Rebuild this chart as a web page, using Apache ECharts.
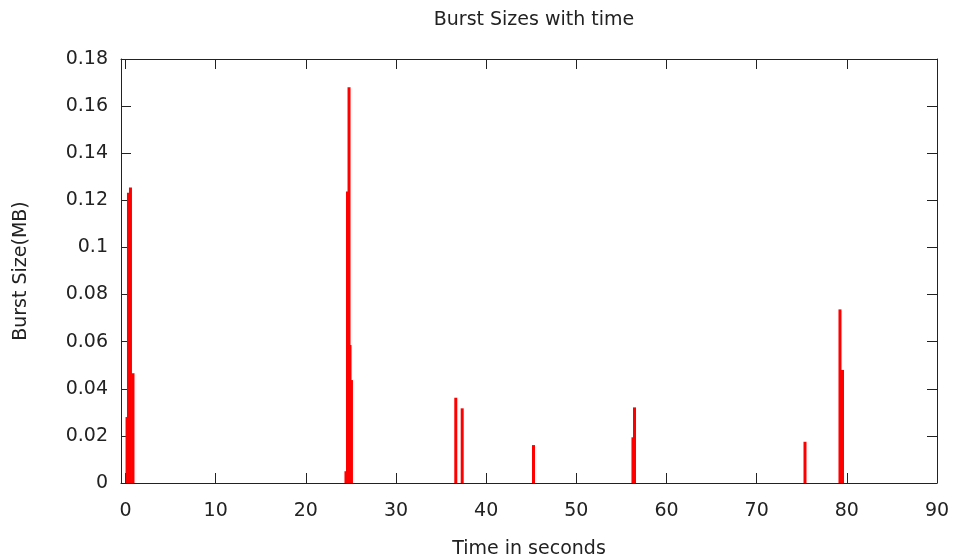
<!DOCTYPE html>
<html>
<head>
<meta charset="utf-8">
<script src="https://cdn.jsdelivr.net/npm/echarts@6/dist/echarts.min.js"></script>
<style>html,body{margin:0;padding:0;background:#fff}#c{width:954px;height:558px}</style>
</head>
<body>
<div id="c"></div>
<script>
var times = [0.17, 0.33, 0.55, 0.83, 24.45, 24.62, 24.79, 24.90, 25.06, 36.63, 37.34, 45.25, 56.28, 56.45, 75.36, 79.24, 79.52];
var sizes = [0.028, 0.1232, 0.1255, 0.0466, 0.005, 0.1237, 0.168, 0.0586, 0.0437, 0.0362, 0.0317, 0.0161, 0.0194, 0.0321, 0.0175, 0.0737, 0.048];
var xTicks = [0, 10, 20, 30, 40, 50, 60, 70, 80, 90];
var yTicks = [0, 0.02, 0.04, 0.06, 0.08, 0.1, 0.12, 0.14, 0.16, 0.18];

var FONT = 'DejaVu Sans';
var FS = 19;
var axisCol = '#222';
var txtCol = '#222';

var chart = echarts.init(document.getElementById('c'), null, {renderer: 'canvas'});
var data = times.map(function (t, i) { return [t, sizes[i]]; });

function xAxisDef(pos, labels) {
  return {
    type: 'value', position: pos, min: -0.5, max: 90,
    splitLine: {show: false},
    axisLine: {show: true, onZero: false, lineStyle: {color: axisCol, width: 1}},
    axisTick: {show: true, inside: true, length: 10, customValues: xTicks, lineStyle: {color: axisCol, width: 1}},
    axisLabel: {show: labels, customValues: xTicks, color: txtCol, fontFamily: FONT, fontSize: FS, margin: 19},
    name: labels ? 'Time in seconds' : '',
    nameLocation: 'middle', nameGap: 57,
    nameTextStyle: {color: txtCol, fontFamily: FONT, fontSize: FS}
  };
}
function yAxisDef(pos, labels) {
  return {
    type: 'value', position: pos, min: 0, max: 0.18, interval: 0.02,
    splitLine: {show: false},
    axisLine: {show: true, onZero: false, lineStyle: {color: axisCol, width: 1}},
    axisTick: {show: true, inside: true, length: 10, lineStyle: {color: axisCol, width: 1}},
    axisLabel: {show: labels, color: txtCol, fontFamily: FONT, fontSize: FS, margin: 13,
      formatter: function (v) { return String(Math.round(v * 100) / 100); }},
    name: labels ? 'Burst Size(MB)' : '',
    nameLocation: 'middle', nameGap: 90, nameRotate: 90,
    nameTextStyle: {color: txtCol, fontFamily: FONT, fontSize: FS}
  };
}

chart.setOption({
  animation: false,
  backgroundColor: '#fff',
  title: {
    text: 'Burst Sizes with time', left: 529, top: 6, textAlign: 'center',
    textStyle: {color: txtCol, fontFamily: FONT, fontSize: FS, fontWeight: 'normal'}
  },
  grid: {left: 121, right: 17, top: 59, bottom: 75, containLabel: false, outerBoundsMode: 'none'},
  xAxis: [xAxisDef('bottom', true), xAxisDef('top', false)],
  yAxis: [yAxisDef('left', true), yAxisDef('right', false)],
  series: [{
    type: 'bar', xAxisIndex: 0, yAxisIndex: 0,
    data: data, barWidth: 3,
    itemStyle: {color: '#ff0000'}
  }]
});
</script>
</body>
</html>
